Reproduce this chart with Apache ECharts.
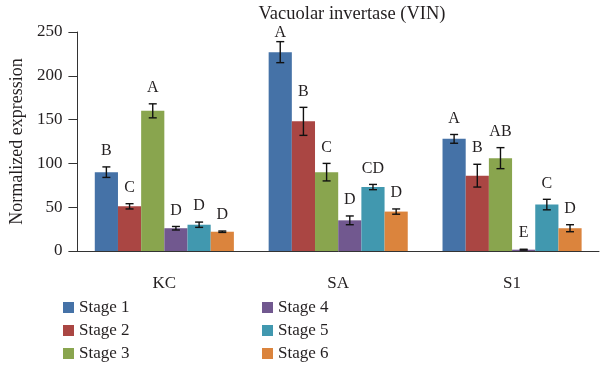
<!DOCTYPE html>
<html><head><meta charset="utf-8">
<script src="https://cdn.jsdelivr.net/npm/echarts@6/dist/echarts.min.js"></script>
<style>html,body{margin:0;padding:0;background:#fff}#c{width:600px;height:366px}</style>
</head><body><div id="c"></div>
<script>
const categories = ['KC', 'SA', 'S1'];
const stageNames = ['Stage 1', 'Stage 2', 'Stage 3', 'Stage 4', 'Stage 5', 'Stage 6'];
const stage1 = [90, 227, 128];
const stage2 = [51, 148, 86];
const stage3 = [160, 90, 106];
const stage4 = [26, 35, 1.5];
const stage5 = [30, 73, 53];
const stage6 = [22, 45, 26];
const err1 = [6, 12, 5];
const err2 = [3, 16, 13];
const err3 = [8, 10, 12];
const err4 = [2, 5, 0.5];
const err5 = [3, 3, 6];
const err6 = [0.8, 3, 4];
const letters1 = ['B', 'A', 'A'];
const letters2 = ['C', 'B', 'B'];
const letters3 = ['A', 'C', 'AB'];
const letters4 = ['D', 'D', 'E'];
const letters5 = ['D', 'CD', 'C'];
const letters6 = ['D', 'D', 'D'];
const yTicks = [0, 50, 100, 150, 200, 250];

const values = [stage1, stage2, stage3, stage4, stage5, stage6];
const errs = [err1, err2, err3, err4, err5, err6];
const letters = [letters1, letters2, letters3, letters4, letters5, letters6];
const colors = ['#4572A7', '#AA4643', '#89A54E', '#71588F', '#4198AF', '#DB843D'];
const FONT = 'Liberation Serif';
const TXT = '#231f20';
const CAT_GAP = 0.2;

const series = [];
values.forEach((v, s) => {
  series.push({
    name: stageNames[s], type: 'bar', data: v,
    barGap: '0%', barCategoryGap: (CAT_GAP * 100) + '%',
    itemStyle: { color: colors[s] }, z: 2
  });
});
values.forEach((v, s) => {
  series.push({
    name: 'err' + s, type: 'custom', z: 5, clip: false,
    data: v.map((val, i) => [i, val, errs[s][i]]),
    renderItem: function (params, api) {
      const ci = api.value(0), val = api.value(1), e = api.value(2);
      const band = api.size([1, 0])[0];
      const bw = band * (1 - CAT_GAP) / values.length;
      const center = api.coord([ci, 0])[0];
      const x = center - band * (1 - CAT_GAP) / 2 + bw * (s + 0.5);
      const yTop = api.coord([ci, val + e])[1];
      const yBot = api.coord([ci, Math.max(val - e, 0)])[1];
      const yAxisTop = api.coord([ci, yTicks[yTicks.length - 1]])[1];
      const cap = 4;
      const st = { stroke: '#111', lineWidth: 1.4 };
      return {
        type: 'group', children: [
          { type: 'line', shape: { x1: x, y1: yTop, x2: x, y2: yBot }, style: st },
          { type: 'line', shape: { x1: x - cap, y1: yTop, x2: x + cap, y2: yTop }, style: st },
          { type: 'line', shape: { x1: x - cap, y1: yBot, x2: x + cap, y2: yBot }, style: st },
          { type: 'text', style: { text: letters[s][params.dataIndex], x: x, y: Math.max(yTop - 16, yAxisTop + 1),
              textAlign: 'center', textVerticalAlign: 'middle',
              font: '16px "' + FONT + '"', fill: TXT } }
        ]
      };
    }
  });
});

const legendPos = [[63, 299], [63, 322], [63, 345], [262, 299], [262, 322], [262, 345]];
const legends = stageNames.map((n, i) => ({
  data: [n], orient: 'vertical', left: legendPos[i][0], top: legendPos[i][1],
  itemWidth: 11, itemHeight: 11, icon: 'rect', padding: 0,
  textStyle: { fontFamily: FONT, fontSize: 17, color: TXT }
}));

const chart = echarts.init(document.getElementById('c'), null, { renderer: 'canvas' });
chart.setOption({
  animation: false,
  backgroundColor: '#fff',
  textStyle: { fontFamily: FONT, color: TXT },
  title: {
    text: 'Vacuolar invertase (VIN)', left: 347, top: 0, textAlign: 'center',
    textStyle: { fontFamily: FONT, fontSize: 18.5, fontWeight: 'normal', color: TXT }
  },
  legend: legends,
  grid: { left: 73, right: 1, top: 32, bottom: 115, containLabel: false },
  xAxis: {
    type: 'category', data: categories,
    axisLine: { lineStyle: { color: '#333', width: 1 } },
    axisTick: { length: 6, lineStyle: { color: '#333' } },
    axisLabel: { fontFamily: FONT, fontSize: 17, color: TXT, margin: 24 }
  },
  yAxis: {
    type: 'value', min: yTicks[0], max: yTicks[yTicks.length - 1], interval: yTicks[1] - yTicks[0],
    name: 'Normalized expression', nameLocation: 'middle', nameGap: 51,
    nameTextStyle: { fontFamily: FONT, fontSize: 18, color: TXT },
    axisLine: { show: true, lineStyle: { color: '#333', width: 1 } },
    axisTick: { show: true, length: 9, lineStyle: { color: '#333' } },
    axisLabel: { fontFamily: FONT, fontSize: 17, color: TXT, margin: 15 },
    splitLine: { show: false }
  },
  series: series
});
</script></body></html>
